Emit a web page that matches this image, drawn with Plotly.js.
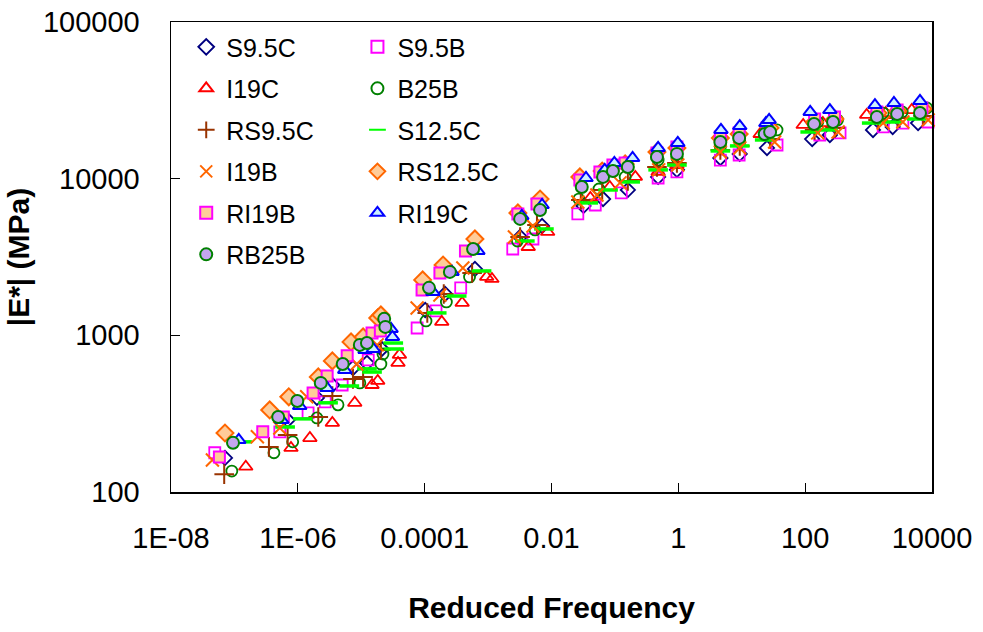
<!DOCTYPE html>
<html><head><meta charset="utf-8">
<script src="https://cdn.plot.ly/plotly-3.0.1.min.js"></script>
<style>html,body{margin:0;padding:0;background:#fff}</style>
</head><body>
<div id="chart" style="width:983px;height:632px"></div>
<script>
// Reduced frequency (x) and |E*| in MPa (y) for each mixture
const S95C_x = [7.1e-8,6.9e-7,2.0e-6,3.5e-6,7.4e-6,1.23e-5,2.1e-5,1.02e-4,2.1e-4,6.2e-4,3.2e-3,7.1e-3,0.032,0.065,0.16,0.48,0.95,4.6,9.3,25,129,245,1175,2400,6030];
const S95C_y = [165,288,399,482,619,667,818,1452,1837,2655,4246,4990,6699,7413,8472,10260,11380,13550,14390,15700,17900,19000,20460,21380,22650];

const S95B_x = [4.9e-8,5.2e-7,1.45e-6,2.7e-6,5.0e-6,1.29e-5,7.6e-5,1.51e-4,3.7e-4,2.45e-3,5.1e-3,0.026,0.049,0.126,0.48,0.95,4.6,9.1,36,170,355,1700,3470,8700];
const S95B_y = [178,242,320,376,482,697,1114,1432,2010,3556,4121,5957,6792,8110,10100,11040,13150,14160,16400,19000,19590,21380,22650,23000];

const I19C_x = [1.51e-7,7.8e-7,1.55e-6,3.5e-6,7.9e-6,1.48e-5,1.82e-5,3.8e-5,4.0e-5,1.86e-4,3.9e-4,9.5e-4,1.15e-3,4.3e-3,8.7e-3,0.041,0.083,0.21,0.48,0.95,19.5,93,190,933,1860,4790];
const I19C_y = [145,191,221,276,371,482,512,667,750,1219,1611,2360,2290,3664,4571,7534,8850,10260,11040,12220,19280,22030,22650,25530,26240,27420];

const B25B_x = [9.1e-8,4.2e-7,8.3e-7,2.0e-6,4.3e-6,9.5e-6,2.04e-5,2.2e-5,1.05e-4,2.2e-4,5.1e-4,2.9e-3,5.5e-3,0.027,0.056,0.145,0.48,0.95,4.6,9.3,36,158,324,1700,3390,8300];
const B25B_y = [136,178,209,297,360,497,656,760,1236,1633,2360,4000,4710,7413,8590,10260,13150,13550,15920,17140,20460,23000,23710,26240,26670,28250];

const RS95C_x = [6.9e-8,3.5e-7,6.9e-7,2.1e-6,3.5e-6,7.4e-6,1.07e-5,2.04e-5,1.1e-4,2.0e-4,5.6e-4,3.2e-3,5.9e-3,0.029,0.063,0.16,0.46,0.95,4.6,9.3,28,141,295,1410,2880,7240];
const RS95C_y = [130,194,231,301,410,527,543,807,1390,1837,2500,4246,5070,7310,8470,9660,11880,12590,15240,16180,17900,20460,21090,23710,24380,25120];

const S125C_x = [1.32e-7,6.3e-7,1.2e-6,3.0e-6,6.5e-6,1.23e-5,1.48e-5,3.2e-5,3.3e-5,1.55e-4,3.2e-4,7.9e-4,3.8e-3,7.6e-3,0.038,0.078,0.174,0.48,0.95,4.6,9.3,23,120,229,1120,2340,5750];
const S125C_y = [209,260,293,371,475,611,583,893,818,1390,1782,2576,4000,4775,7000,8470,9530,11380,12220,15030,16180,17660,19860,20460,22650,23000,24040];

const I19B_x = [4.5e-8,2.3e-7,5.2e-7,1.38e-6,8.5e-6,1.78e-5,7.6e-5,1.74e-4,4.0e-4,2.6e-3,5.1e-3,0.026,0.052,0.12,0.49,0.98,4.6,9.3,33,158,331,1700,3470,8700];
const I19B_y = [160,225,256,405,656,869,1496,1811,2692,4246,4990,7100,7870,9400,11380,12220,14790,15700,17140,19590,19860,22650,23000,23710];

const RS125C_x = [7.1e-8,3.6e-7,7.2e-7,2.1e-6,3.5e-6,6.9e-6,1.07e-5,1.82e-5,2.04e-5,9.3e-5,1.95e-4,6.2e-4,2.95e-3,6.6e-3,0.028,0.063,0.145,0.46,0.95,4.6,9.1,28,141,295,1410,2880,7240];
const RS125C_y = [238,334,405,543,687,908,977,1291,1349,2259,2812,4121,6040,7413,10260,11190,12420,14790,15700,18200,19280,21090,23000,24040,26240,27040,27860];

const RI19B_x = [5.8e-8,2.8e-7,5.9e-7,1.74e-6,2.9e-6,6.0e-6,1.48e-5,2.0e-5,9.1e-5,1.74e-4,4.4e-4,2.95e-3,5.9e-3,0.028,0.058,0.093,0.145,0.46,0.95,4.6,9.1,25,141,290,1350,2820,6920];
const RI19B_y = [167,242,301,428,551,740,1035,1067,1950,2500,3459,5957,6900,9820,11040,12220,12590,14590,15920,18450,19590,21090,24040,24770,26670,27420,28250];

const RI19C_x = [1.17e-7,5.6e-7,1.07e-6,2.9e-6,5.5e-6,1.15e-5,1.55e-5,2.95e-5,3.1e-5,1.35e-4,2.7e-4,6.9e-4,3.4e-3,7.1e-3,0.035,0.069,0.098,0.19,0.48,0.98,4.7,9.3,24,27,120,245,1260,2510,6460];
const RI19C_y = [215,288,354,461,601,807,818,1099,977,1892,2541,3459,5780,6792,10100,11380,12590,13550,15700,16900,20460,21680,22650,23710,26670,27420,29510,30410,31330];

const RB25B_x = [9.5e-8,4.9e-7,9.8e-7,2.3e-6,5.1e-6,9.5e-6,1.23e-5,2.3e-5,2.4e-5,1.17e-4,2.5e-4,5.8e-4,3.2e-3,6.6e-3,0.030,0.065,0.093,0.16,0.46,0.95,4.6,9.1,23,28,138,275,1350,2820,6460];
const RB25B_y = [206,301,381,497,656,869,893,1274,1132,2010,2541,3556,5534,6310,8850,10260,11190,11880,13740,14390,17140,18200,19280,19860,22340,23000,24770,25880,26240];

const xTickVals = [1e-8,1e-6,1e-4,1e-2,1,100,10000];
const xTickText = ['1E-08','1E-06','0.0001','0.01','1','100','10000'];
const yTickVals = [100,1000,10000,100000];
const yTickText = ['100','1000','10000','100000'];

const FONT = '"Liberation Sans", Arial, sans-serif';

function tr(name, x, y, marker, legend) {
  return {type:'scatter', mode:'markers', name:name, x:x, y:y, marker:marker,
          legend:legend, legendgroup:name, cliponaxis:false};
}

const traces = [
  tr('S9.5C', S95C_x, S95C_y, {symbol:'diamond-open', size:11, color:'#000080', line:{width:1.8}}, 'legend'),
  tr('S9.5B', S95B_x, S95B_y, {symbol:'square-open', size:11, color:'#FF00FF', line:{width:1.8}}, 'legend2'),
  tr('I19C', I19C_x, I19C_y, {symbol:'triangle-up-open', size:12, color:'#FF0000', line:{width:1.8}}, 'legend'),
  tr('B25B', B25B_x, B25B_y, {symbol:'circle-open', size:11, color:'#008000', line:{width:1.8}}, 'legend2'),
  tr('RS9.5C', RS95C_x, RS95C_y, {symbol:'cross-thin-open', size:14, color:'#993300', line:{width:2, color:'#993300'}}, 'legend'),
  tr('S12.5C', S125C_x, S125C_y, {symbol:'line-ew-open', size:14, color:'#00FF00', line:{width:3.5, color:'#00FF00'}}, 'legend2'),
  tr('I19B', I19B_x, I19B_y, {symbol:'x-thin-open', size:13, color:'#FF6600', line:{width:2, color:'#FF6600'}}, 'legend'),
  tr('RS12.5C', RS125C_x, RS125C_y, {symbol:'diamond', size:13, color:'#FFCC99', line:{width:2, color:'#FF6600'}}, 'legend2'),
  tr('RI19B', RI19B_x, RI19B_y, {symbol:'square', size:11, color:'#FFCC99', line:{width:2, color:'#FF00FF'}}, 'legend'),
  tr('RI19C', RI19C_x, RI19C_y, {symbol:'triangle-up', size:12, color:'#CCF0FF', line:{width:2, color:'#0000FF'}}, 'legend2'),
  tr('RB25B', RB25B_x, RB25B_y, {symbol:'circle', size:12, color:'#C4A6EE', line:{width:2, color:'#008000'}}, 'legend')
];

const legendBase = {
  bgcolor:'rgba(0,0,0,0)', borderwidth:0, orientation:'v',
  font:{family:FONT, size:25, color:'#000'},
  itemsizing:'constant', tracegroupgap:6, xanchor:'left', yanchor:'top'
};

const layout = {
  width:983, height:632,
  margin:{l:171, r:51, t:22, b:140},
  paper_bgcolor:'#fff', plot_bgcolor:'#fff',
  font:{family:FONT, color:'#000'},
  showlegend:true,
  legend: Object.assign({}, legendBase, {x:0.02, y:0.9955}),
  legend2: Object.assign({}, legendBase, {x:0.245, y:0.9955}),
  xaxis:{
    type:'log', range:[-8,4], autorange:false,
    tickvals:xTickVals, ticktext:xTickText,
    ticks:'inside', ticklen:9, tickwidth:1, tickcolor:'#000',
    showline:true, linecolor:'#000', linewidth:1.5, mirror:true,
    showgrid:false, zeroline:false,
    tickfont:{family:FONT, size:29, color:'#000'},
    ticklabelstandoff:20,
    title:{text:'<b>Reduced Frequency</b>', font:{family:FONT, size:30, color:'#000'}, standoff:43}
  },
  yaxis:{
    type:'log', range:[2,5], autorange:false,
    tickvals:yTickVals, ticktext:yTickText,
    ticks:'inside', ticklen:9, tickwidth:1, tickcolor:'#000',
    showline:true, linecolor:'#000', linewidth:1.5, mirror:true,
    showgrid:false, zeroline:false,
    tickfont:{family:FONT, size:29, color:'#000'},
    ticklabelstandoff:24,
    title:{text:'<b>|E*| (MPa)</b>', font:{family:FONT, size:30, color:'#000'}, standoff:4}
  }
};

Plotly.newPlot('chart', traces, layout, {displayModeBar:false, staticPlot:true});
</script>
</body></html>
